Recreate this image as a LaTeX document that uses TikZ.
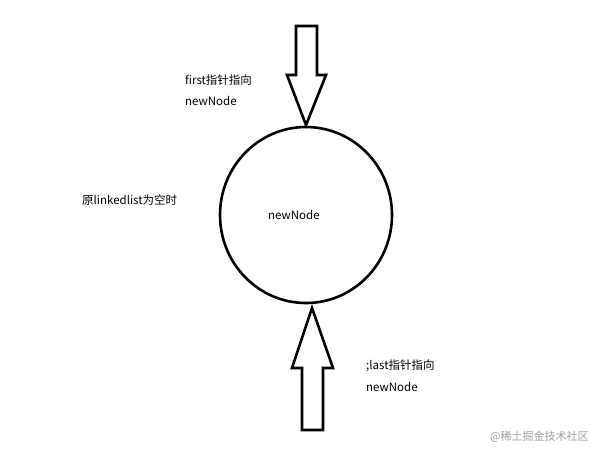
\documentclass[tikz,border=0pt]{standalone}
\usepackage{fontspec}
\usetikzlibrary{shapes.geometric}
\setmainfont{Noto Sans CJK SC}
\begin{document}
\begin{tikzpicture}[x=1pt,y=-1pt,
  outline/.style={draw=black,line width=2.6pt,line join=miter},
  lbl/.style={anchor=west,inner sep=0pt,font=\fontsize{11.5}{13}\selectfont},
  wm/.style={anchor=west,inner sep=0pt,text=black!38,font=\fontsize{11}{13}\selectfont}]
\useasboundingbox (0,0) rectangle (607,451);
% top arrow (pointing down)
\draw[outline] (296,26) -- (317,26) -- (317,75) -- (326,75) -- (306,125) -- (287,75) -- (296,75) -- cycle;
% circle
\node[outline,ellipse,minimum width=172pt,minimum height=176pt,inner sep=0pt] (nn) at (306,215) {};
\node[lbl] (nntext) at (268,215) {newNode};
% bottom arrow (pointing up)
\draw[outline] (312,308) -- (333,368) -- (323,368) -- (323,430) -- (302,430) -- (302,368) -- (292,368) -- cycle;
% labels
\node[lbl] (first1) at (185,80) {first指针指向};
\node[lbl] (first2) at (185,101) {newNode};
\node[lbl] (empty) at (82,200) {原linkedlist为空时};
\node[lbl] (last1) at (366,366) {;last指针指向};
\node[lbl] (last2) at (366,387) {newNode};
\node[wm] (wm) at (490,437) {@稀土掘金技术社区};
\end{tikzpicture}
\end{document}
